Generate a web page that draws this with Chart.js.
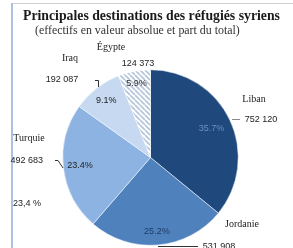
<!DOCTYPE html>
<html>
<head>
<meta charset="utf-8">
<script src="https://cdn.jsdelivr.net/npm/chart.js@4"></script>
<style>
  body { margin: 0; background: #fff; }
  #wrap { position: relative; width: 293px; height: 248px; }
</style>
</head>
<body>
<div id="wrap"><canvas id="myChart" width="293" height="248"></canvas></div>
<script>
const ctx = document.getElementById('myChart');

// data
const categories = ['Liban', 'Jordanie', 'Turquie', 'Iraq', 'Égypte'];
const refugees = [752120, 531908, 492683, 192087, 124373];
const shares = ['35.7%', '25.2%', '23.4%', '9.1%', '5.9%'];
const valueLabels = ['752 120', '531 908', '492 683', '192 087', '124 373'];
const extraLabel = '23,4 %';

const title = 'Principales destinations des réfugiés syriens';
const subtitle = '(effectifs en valeur absolue et part du total)';

// hatched fill for Égypte
function hatch() {
  const s = 5;
  const c = document.createElement('canvas');
  c.width = s; c.height = s;
  const g = c.getContext('2d');
  g.fillStyle = '#ffffff';
  g.fillRect(0, 0, s, s);
  g.strokeStyle = '#b5c5da';
  g.lineWidth = 1.7;
  [-s, 0, s].forEach(k => {
    g.beginPath();
    g.moveTo(k, 0);
    g.lineTo(k + s, s);
    g.stroke();
  });
  return g.createPattern(c, 'repeat');
}

const colors = ['#1f497d', '#4f81bd', '#8db3e2', '#c6d9f1', hatch()];
const shareColors = ['#6a8fc2', '#1f3a60', '#222', '#222', '#333'];
const shareRadius = [0.77, 0.85, 0.81, 0.82, 0.86];

// where the outside labels sit (name, value)
const namePos = [[254, 99], [242, 224], [29, 138], [70, 58], [111, 47]];
const valuePos = [[261, 120], [219, 247], [43, 161, 'right'], [62, 80], [138, 64]];

const SERIF = '"Liberation Serif", "DejaVu Serif", serif';
const SANS = '"Liberation Sans", Arial, sans-serif';

function fitFont(c, text, weight, family, width) {
  c.font = weight + ' 20px ' + family;
  const w = c.measureText(text).width;
  return weight + ' ' + (20 * width / w).toFixed(2) + 'px ' + family;
}

const decor = {
  id: 'decor',
  beforeDraw(chart) {
    const c = chart.ctx;
    c.save();
    // frame
    c.fillStyle = '#cfcfcf';
    c.fillRect(12, 3, 281, 1);
    c.fillStyle = '#a9c2e2';
    c.fillRect(11, 3, 2, 245);
    c.restore();
  },
  afterDraw(chart) {
    const c = chart.ctx;
    const meta = chart.getDatasetMeta(0);
    c.save();

    c.fillStyle = '#1a1a1a';
    c.textAlign = 'left';
    c.textBaseline = 'alphabetic';
    c.font = fitFont(c, title, 'bold', SERIF, 257);
    c.fillText(title, 23, 20);
    c.fillStyle = '#333';
    c.font = fitFont(c, subtitle, 'normal', SERIF, 205);
    c.fillText(subtitle, 35, 34);

    // percentages inside slices
    c.font = '9px ' + SANS;
    c.textAlign = 'center';
    c.textBaseline = 'middle';
    meta.data.forEach((arc, i) => {
      const a = (arc.startAngle + arc.endAngle) / 2;
      const r = arc.outerRadius * shareRadius[i];
      c.fillStyle = shareColors[i];
      c.fillText(shares[i], arc.x + Math.cos(a) * r, arc.y + Math.sin(a) * r);
    });

    // names
    c.fillStyle = '#222';
    c.font = '10px ' + SERIF;
    categories.forEach((name, i) => {
      c.fillText(name, namePos[i][0], namePos[i][1]);
    });

    // values
    c.font = '9px ' + SANS;
    valueLabels.forEach((v, i) => {
      c.textAlign = valuePos[i][2] || 'center';
      c.fillText(v, valuePos[i][0], valuePos[i][1]);
    });
    c.textAlign = 'left';
    c.fillText(extraLabel, 13, 203.5);

    // leader lines
    c.lineWidth = 1;
    c.strokeStyle = '#8a8a8a';
    c.beginPath(); c.moveTo(232, 119.5); c.lineTo(240, 119.5); c.stroke();
    c.strokeStyle = '#333';
    c.beginPath(); c.moveTo(95, 80.5); c.lineTo(98.5, 80.5); c.lineTo(98.5, 87); c.stroke();
    c.beginPath(); c.moveTo(55, 160.5); c.lineTo(58, 160.5); c.lineTo(63, 168); c.stroke();
    c.beginPath(); c.moveTo(158, 246.5); c.lineTo(198, 246.5); c.stroke();

    c.restore();
  }
};

new Chart(ctx, {
  type: 'pie',
  data: {
    labels: categories,
    datasets: [{
      data: refugees,
      backgroundColor: colors,
      borderColor: '#ffffff',
      borderWidth: 0.5
    }]
  },
  options: {
    responsive: false,
    animation: false,
    events: [],
    layout: {
      padding: { left: 62.5, right: 54.5, top: 69.5, bottom: 2.5 }
    },
    plugins: {
      legend: { display: false },
      tooltip: { enabled: false }
    }
  },
  plugins: [decor]
});
</script>
</body>
</html>
